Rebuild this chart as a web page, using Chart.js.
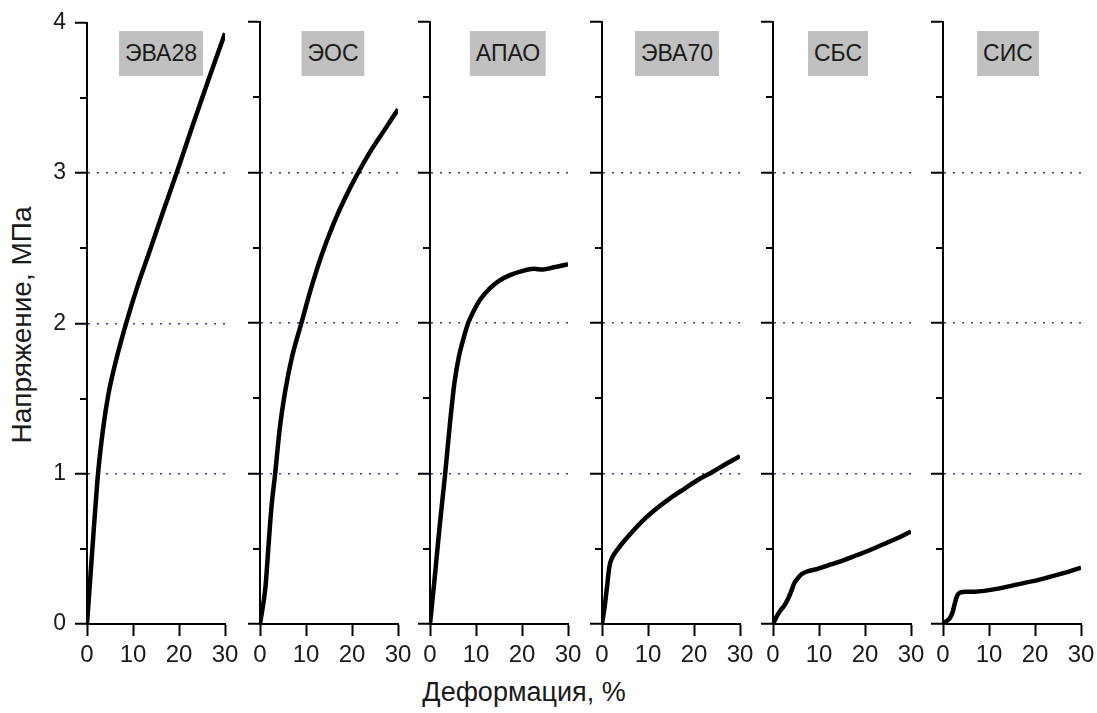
<!DOCTYPE html>
<html>
<head>
<meta charset="utf-8">
<script src="https://cdn.jsdelivr.net/npm/chart.js@4.4.1/dist/chart.umd.min.js"></script>
<style>
  html, body { margin: 0; padding: 0; background: #fff; overflow: hidden; }
  #wrap { position: relative; width: 1097px; height: 713px; overflow: hidden; font-family: "Liberation Sans", Arial, sans-serif; color: #1a1a1a; }
  canvas { position: absolute; top: 0; }
  .tag { position: absolute; top: 31px; height: 45px; line-height: 45px; padding: 0 6px; background: #c0c0c0; font-size: 23px; transform: translateX(-50%); white-space: nowrap; }
  #yTitle { position: absolute; left: 22px; top: 325px; transform: translate(-50%, -50%) rotate(-90deg); font-size: 28px; white-space: nowrap; }
  #xTitle { position: absolute; left: 524px; top: 692px; transform: translate(-50%, -50%); font-size: 27px; white-space: nowrap; }
</style>
</head>
<body>
<div id="wrap">
  <div id="yTitle">Напряжение, МПа</div>
  <div id="xTitle">Деформация, %</div>
</div>
<script>
// panel names
const panelNames = ["ЭВА28", "ЭОС", "АПАО", "ЭВА70", "СБС", "СИС"];

// strain, %  /  stress, MPa
const strainEVA28 = [0, 0.7, 1.4, 2.4, 3.5, 4.6, 6.2, 8.5, 11, 13.5, 16.5, 19.7, 23, 26.5, 30];
const stressEVA28 = [0, 0.3, 0.6, 1.0, 1.3, 1.52, 1.74, 2.0, 2.25, 2.47, 2.74, 3.02, 3.32, 3.63, 3.93];

const strainEOS = [0, 1.2, 1.8, 2.5, 3.3, 4.3, 5.5, 7, 9, 11, 13.5, 16, 18.5, 21, 24, 27, 30];
const stressEOS = [0, 0.25, 0.5, 0.78, 1.0, 1.3, 1.55, 1.78, 2.0, 2.22, 2.46, 2.66, 2.83, 2.98, 3.14, 3.28, 3.42];

const strainAPAO = [0, 1, 2, 3.3, 4.3, 5.3, 6.3, 7.3, 8.3, 9.5, 11, 13, 15, 17.5, 20, 22.5, 24.5, 27, 30];
const stressAPAO = [0, 0.3, 0.62, 1.0, 1.32, 1.6, 1.78, 1.9, 2.0, 2.08, 2.16, 2.23, 2.28, 2.32, 2.345, 2.36, 2.355, 2.37, 2.39];

const strainEVA70 = [0, 0.6, 1.1, 1.6, 2.2, 3, 4.5, 6.5, 9, 12, 15, 18, 21, 24, 27, 30];
const stressEVA70 = [0, 0.12, 0.25, 0.38, 0.44, 0.48, 0.54, 0.61, 0.69, 0.77, 0.84, 0.9, 0.96, 1.01, 1.065, 1.115];

const strainSBS = [0, 0.8, 1.6, 2.4, 3.3, 4.0, 4.6, 5.3, 6.2, 7.5, 9.5, 12, 15, 18, 21, 24, 27, 30];
const stressSBS = [0, 0.05, 0.09, 0.12, 0.17, 0.22, 0.27, 0.30, 0.33, 0.35, 0.365, 0.39, 0.42, 0.455, 0.49, 0.53, 0.57, 0.615];

const strainSIS = [0, 0.8, 1.5, 2.1, 2.6, 3.1, 3.8, 5, 7, 9, 12, 15, 18, 21, 24, 27, 30];
const stressSIS = [0, 0.02, 0.04, 0.08, 0.14, 0.19, 0.21, 0.215, 0.215, 0.22, 0.235, 0.255, 0.275, 0.295, 0.32, 0.345, 0.375];

const xTicks = [0, 10, 20, 30];
const yTicks = [0, 1, 2, 3, 4];
const yMinor = [0.5, 1.5, 2.5, 3.5];

const strains = [strainEVA28, strainEOS, strainAPAO, strainEVA70, strainSBS, strainSIS];
const stresses = [stressEVA28, stressEOS, stressAPAO, stressEVA70, stressSBS, stressSIS];

// layout: where each panel's y axis sits on the page, and tag centre offset
const axisLeft = [87, 260, 430, 602, 773, 943];
const tagOffset = [74, 73, 78, 75, 65, 65];
const yAxisW = 70;

Chart.defaults.font.family = '"Liberation Sans", Arial, sans-serif';
Chart.defaults.color = "#1a1a1a";

const minorTicks = {
  id: "minorTicks",
  afterDraw(chart) {
    const y = chart.scales.y;
    const ctx = chart.ctx;
    ctx.save();
    ctx.strokeStyle = "#000";
    ctx.lineWidth = 2;
    yMinor.forEach(v => {
      const py = Math.round(y.getPixelForValue(v));
      ctx.beginPath();
      ctx.moveTo(y.right - 7, py);
      ctx.lineTo(y.right, py);
      ctx.stroke();
    });
    ctx.restore();
  }
};

const wrap = document.getElementById("wrap");

function makePanel(i) {
  const canvas = document.createElement("canvas");
  canvas.width = 228;
  canvas.height = 680;
  canvas.style.left = (axisLeft[i] - yAxisW) + "px";
  wrap.appendChild(canvas);

  const tag = document.createElement("div");
  tag.className = "tag";
  tag.textContent = panelNames[i];
  tag.style.left = (axisLeft[i] + tagOffset[i]) + "px";
  wrap.appendChild(tag);

  const points = strains[i].map((x, k) => ({ x: x, y: stresses[i][k] }));

  new Chart(canvas, {
    type: "line",
    data: {
      datasets: [{
        data: points,
        borderColor: "#000",
        borderWidth: 4.5,
        pointRadius: 0,
        fill: false,
        cubicInterpolationMode: "monotone"
      }]
    },
    options: {
      responsive: false,
      animation: false,
      events: [],
      layout: { padding: { left: 0, right: 20, top: 22, bottom: 6 } },
      plugins: { legend: { display: false }, tooltip: { enabled: false } },
      scales: {
        x: {
          type: "linear",
          min: 0, max: 30,
          afterBuildTicks: s => { s.ticks = xTicks.map(v => ({ value: v })); },
          afterFit: s => { s.height = 50; },
          grid: { drawOnChartArea: false, tickLength: 12, tickWidth: 2, tickColor: "#000" },
          border: { color: "#000", width: 2 },
          ticks: { font: { size: 24 }, padding: 5, maxRotation: 0, autoSkip: false }
        },
        y: {
          type: "linear",
          min: 0, max: 4,
          afterBuildTicks: s => { s.ticks = yTicks.map(v => ({ value: v })); },
          afterFit: s => { s.width = yAxisW; },
          grid: {
            color: c => (c.tick && c.tick.value > 0 && c.tick.value < 4) ? "#3a3aa0" : "rgba(0,0,0,0)",
            lineWidth: 1.5,
            tickLength: 12, tickWidth: 2, tickColor: "#000"
          },
          border: { color: "#000", width: 2, dash: [2, 7] },
          ticks: { display: i === 0, font: { size: 23 }, padding: 9 }
        }
      }
    },
    plugins: [minorTicks]
  });
}

for (let i = 0; i < panelNames.length; i++) makePanel(i);
</script>
</body>
</html>
